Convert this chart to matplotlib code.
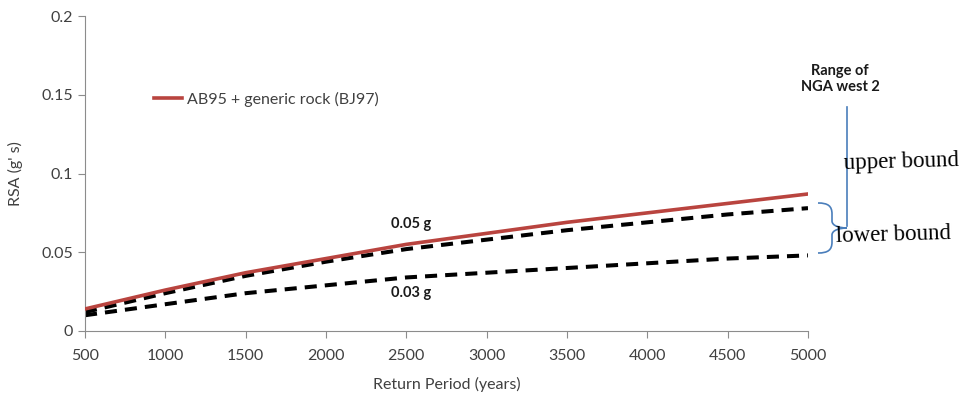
import numpy as np
import matplotlib
matplotlib.use("Agg")
import matplotlib.pyplot as plt
from matplotlib.path import Path
from matplotlib.patches import PathPatch
from matplotlib.lines import Line2D

# data
years = [500, 1000, 1500, 2000, 2500, 3000, 3500, 4000, 4500, 5000]
rsa_ab95 = [0.014, 0.026, 0.037, 0.046, 0.055, 0.062, 0.069, 0.075, 0.081, 0.087]
rsa_upper = [0.012, 0.024, 0.035, 0.044, 0.052, 0.058, 0.064, 0.069, 0.074, 0.078]
rsa_lower = [0.010, 0.017, 0.024, 0.029, 0.034, 0.037, 0.040, 0.043, 0.046, 0.048]

y_ticks = [0, 0.05, 0.1, 0.15, 0.2]
y_tick_labels = ['0', '0.05', '0.1', '0.15', '0.2']

W, H = 976, 403
plt.rcParams['font.family'] = ['Lato', 'DejaVu Sans']

fig = plt.figure(figsize=(W / 100, H / 100), dpi=100)
ax = fig.add_axes([85 / W, 1 - 331 / H, (808 - 85) / W, (331 - 16) / H])

grey = '#404040'
ax.plot(years, rsa_upper, color='black', lw=2.9, dashes=(3, 2), zorder=2)
ax.plot(years, rsa_lower, color='black', lw=2.9, dashes=(3, 2), zorder=2)
ax.plot(years, rsa_ab95, color='#B9443F', lw=2.6, zorder=3,
        label='AB95 + generic rock (BJ97)')

ax.set_xlim(500, 5000)
ax.set_ylim(0, 0.2)
ax.set_xticks(years)
ax.set_yticks(y_ticks)
ax.set_yticklabels(y_tick_labels)

for s in ['top', 'right']:
    ax.spines[s].set_visible(False)
for s in ['left', 'bottom']:
    ax.spines[s].set_color('#8c8c8c')
ax.tick_params(colors='#8c8c8c', labelcolor=grey, labelsize=11.5, length=5, direction='out')
ax.tick_params(axis='x', pad=8)

ax.set_xlabel('Return Period (years)', fontsize=11.5, color=grey, labelpad=10)
ax.set_ylabel("RSA (g' s)", fontsize=11.5, color=grey, labelpad=13)

leg = ax.legend(loc='upper left', bbox_to_anchor=(0.075, 0.805),
                frameon=False, fontsize=11.5, handlelength=1.8, handletextpad=0.3)
for t in leg.get_texts():
    t.set_color(grey)

ax.text(2530, 0.068, '0.05 g', fontsize=10.5, fontweight='bold', color='#1a1a1a',
        ha='center', va='center')
ax.text(2530, 0.0241, '0.03 g', fontsize=10.5, fontweight='bold', color='#1a1a1a',
        ha='center', va='center')


def fx(px):
    return px / W


def fy(py):
    return 1 - py / H


# annotations on the right
fig.text(fx(840), fy(79), 'Range of\nNGA west 2', fontsize=10.5, fontweight='bold',
         color='#1a1a1a', ha='center', va='center', linespacing=1.2)
fig.text(fx(843), fy(162), 'upper bound', fontsize=16.5, family='Liberation Serif',
         color='black', ha='left', va='center', rotation=1.5)
fig.text(fx(836), fy(235), 'lower bound', fontsize=16.5, family='Liberation Serif',
         color='black', ha='left', va='center', rotation=1.5)

blue = '#4A7EBB'
fig.add_artist(Line2D([fx(847), fx(847)], [fy(107), fy(226)], color=blue, lw=1.2,
                      transform=fig.transFigure))

verts = [(818, 203),
         (828, 203), (832, 206), (832, 214),
         (832, 221),
         (832, 226), (840, 228), (847, 228),
         (840, 228), (832, 230), (832, 235),
         (832, 242),
         (832, 250), (828, 253), (818, 253)]
codes = [Path.MOVETO,
         Path.CURVE4, Path.CURVE4, Path.CURVE4,
         Path.LINETO,
         Path.CURVE4, Path.CURVE4, Path.CURVE4,
         Path.CURVE4, Path.CURVE4, Path.CURVE4,
         Path.LINETO,
         Path.CURVE4, Path.CURVE4, Path.CURVE4]
brace = Path([(fx(x), fy(y)) for x, y in verts], codes)
fig.add_artist(PathPatch(brace, fill=False, edgecolor=blue, lw=1.2, transform=fig.transFigure))

fig.savefig('out.png', dpi=100)
